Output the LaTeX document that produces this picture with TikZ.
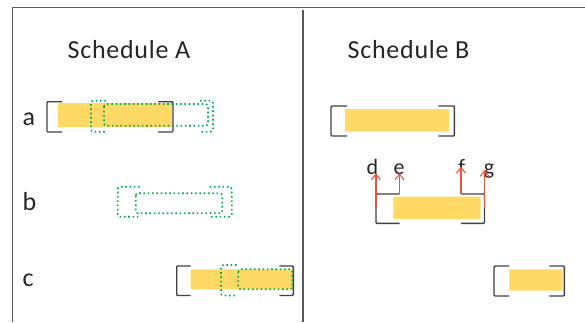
\documentclass[tikz,border=0pt]{standalone}
\usepackage{fontspec}
\setmainfont{Carlito}
\usetikzlibrary{arrows.meta}
\definecolor{bargold}{HTML}{FFD966}
\definecolor{dotgreen}{HTML}{00B050}
\definecolor{brkgray}{HTML}{404040}
\definecolor{framegray}{HTML}{5A5A5A}
\definecolor{arrred}{HTML}{F0503C}
\tikzset{
  framelin/.style={draw=framegray,line width=1.3pt},
  brk/.style={draw=brkgray,line width=1.4pt,rounded corners=1pt},
  bar/.style={fill=bargold,draw=none,rounded corners=1pt},
  grn/.style={draw=dotgreen,line width=1.7pt,dash pattern=on 1.6pt off 2.7pt,rounded corners=2.5pt},
  arr/.style={draw=arrred,line width=1.1pt,-{Straight Barb[length=5.5pt,width=9pt]}},
  title/.style={font=\fontsize{26}{30}\selectfont\addfontfeature{LetterSpace=2.8},anchor=base west,inner sep=0pt,text=black!85},
  rowlab/.style={font=\fontsize{26}{30}\selectfont,anchor=base west,inner sep=0pt,text=black!85},
  evlab/.style={font=\fontsize{22}{26}\selectfont,anchor=base,inner sep=0pt,text=black!85}
}
% left/right bracket pair: xl, xr, ytop, ybot, stub
\newcommand{\brpair}[6][brk]{%
  \draw[#1] (#2+#6,#4) -- (#2,#4) -- (#2,#5) -- (#2+#6,#5);
  \draw[#1] (#3-#6,#4) -- (#3,#4) -- (#3,#5) -- (#3-#6,#5);}
\newcommand{\brleft}[5][brk]{%
  \draw[#1] (#2+#5,#3) -- (#2,#3) -- (#2,#4) -- (#2+#5,#4);}
\newcommand{\brright}[5][brk]{%
  \draw[#1] (#2-#5,#3) -- (#2,#3) -- (#2,#4) -- (#2-#5,#4);}
\begin{document}
\begin{tikzpicture}[x=1pt,y=-1pt]
\useasboundingbox (0,0) rectangle (585,322);
% frame
\draw[framelin] (585,7.5) -- (12.5,7.5) -- (12.5,322);
\draw[framelin] (303,10) -- (303,322);
% titles
\node[title] (tA) at (67.5,58.3) {Schedule A};
\node[title] (tB) at (347.5,58.3) {Schedule B};
% row labels
\node[rowlab] (la) at (22.5,125.7) {a};
\node[rowlab] (lb) at (22.5,210.7) {b};
\node[rowlab] (lc) at (22.5,286.7) {c};
% ---------- Schedule A ----------
% row a
\fill[bar] (58,103) rectangle (172,127);
\brpair{47}{173}{101.7}{132}{15}
\brleft[grn]{91}{100.7}{131.7}{15}
\brright[grn]{213}{100.7}{131.7}{13}
\draw[grn] (104,104) rectangle (208,125.7);
% row b
\brleft[grn]{117.7}{186.7}{216.7}{22}
\brright[grn]{231.7}{186.7}{216.7}{22}
\draw[grn] (135.7,193.3) rectangle (222.3,213.3);
% row c
\fill[bar] (190.7,269.3) rectangle (293,289.3);
\brpair{176.7}{293.3}{266}{295.5}{14}
\brleft[grn]{221}{265}{295.5}{15.5}
\draw[grn] (238.3,269.3) rectangle (292.3,289.3);
% ---------- Schedule B ----------
% row a
\fill[bar] (345,109) rectangle (449.3,131.7);
\brpair{331}{454.3}{106}{136}{16}
% row b
\fill[bar] (393.3,196.7) rectangle (480.7,219);
\brpair{376}{484.5}{194}{223.3}{23.5}
\coordinate (dS) at (376,208);
\coordinate (eS) at (399.5,194);
\coordinate (fS) at (461,194);
\coordinate (gS) at (484.5,208);
\coordinate (dT) at (376,173.3);
\coordinate (eT) at (399.5,173.3);
\coordinate (fT) at (461,166.7);
\coordinate (gT) at (484.5,170);
\node[evlab] (d) at (372.5,174.3) {d};
\node[evlab] (e) at (399,174.3) {e};
\node[evlab] (f) at (461.7,174.8) {f};
\node[evlab] (g) at (489,174.3) {g};
\draw[arr] (dS) -- (dT);
\draw[arr] (eS) -- (eT);
\draw[arr] (fS) -- (fT);
\draw[arr] (gS) -- (gT);
% row c
\fill[bar] (509.3,269.3) rectangle (562.7,290.7);
\brpair{494}{564.3}{266}{296}{15}
\end{tikzpicture}
\end{document}
